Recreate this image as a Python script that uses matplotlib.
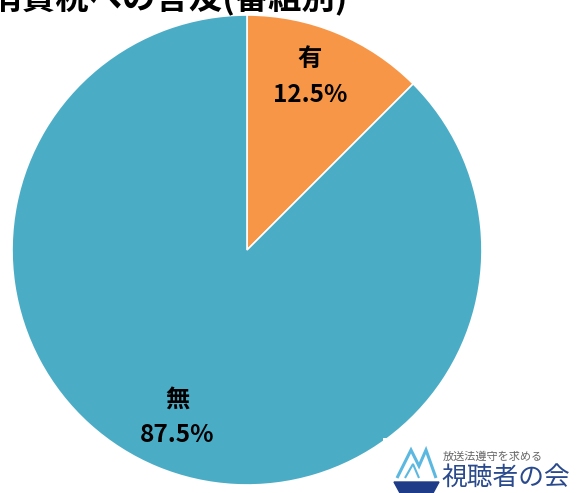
import matplotlib
matplotlib.use("Agg")
from matplotlib import pyplot as plt
from matplotlib.patches import Polygon

plt.rcParams['font.family'] = ['Noto Sans CJK JP', 'DejaVu Sans']

labels = ["有", "無"]
shares = [12.5, 87.5]
colors = ["#F79646", "#4BACC6"]
title = "番組中の消費税への言及(番組別)"

W, H = 583, 493
fig = plt.figure(figsize=(W / 100, H / 100), dpi=100)

# pie centre (247, 250) px, radius 235 px
cx, cy, r = 247, 250, 235
ax = fig.add_axes([(cx - r) / W, (H - cy - r) / H, 2 * r / W, 2 * r / H])
wedges, _ = ax.pie(shares, colors=colors, startangle=90, counterclock=False,
                   radius=1, wedgeprops=dict(edgecolor="white", linewidth=1.2))
ax.set_xlim(-1, 1)
ax.set_ylim(-1, 1)
ax.set_aspect("equal")
ax.axis("off")

# labels inside the wedges (pixel positions of the text centres)
for (px, py), lab, val in [((310, 77), labels[0], shares[0]),
                           ((177, 417), labels[1], shares[1])]:
    fig.text(px / W, 1 - py / H, f"{lab}\n{val}%", ha="center", va="center",
             fontsize=17.5, fontweight="bold", linespacing=1.6)

# title, mostly cut off by the top edge
fig.text(348 / W, 1 - 9 / H, title, ha="right", va="baseline",
         fontsize=24, fontweight="bold")

# logo in the lower right corner
lax = fig.add_axes([383 / W, 0, 200 / W, 55 / H])
lax.set_xlim(0, 200)
lax.set_ylim(55, 0)
lax.axis("off")
lax.add_patch(plt.Rectangle((0, 0), 200, 55, color="white", zorder=0))
lax.add_patch(Polygon([[14, 40], [28, 12], [36, 28], [43, 12], [53, 40]],
                      closed=False, fill=False, edgecolor="#5BB8E0", lw=2.2))
lax.add_patch(Polygon([[22, 40], [30, 26], [36, 40]], closed=False, fill=False,
                      edgecolor="#5BB8E0", lw=1.5))
lax.add_patch(Polygon([[11, 44], [56, 44], [50, 55], [17, 55]], color="#1F3C88"))
lax.text(60, 19, "放送法遵守を求める", fontsize=8, color="#666666", va="center")
lax.text(58, 40, "視聴者の会", fontsize=18.5, color="#2A4A8E", va="center")

fig.savefig("out.png", dpi=100)
